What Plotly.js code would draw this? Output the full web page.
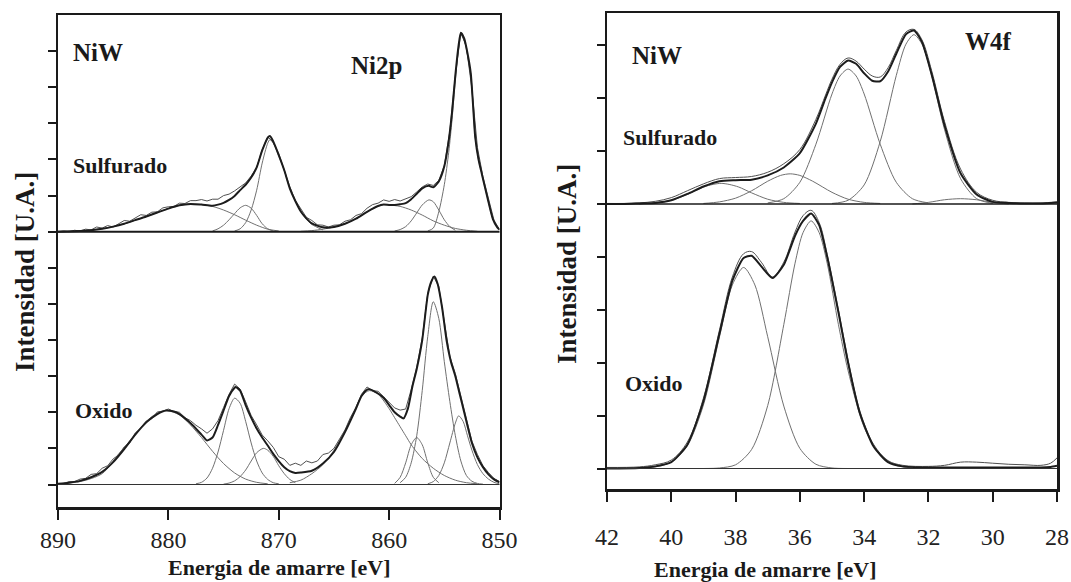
<!DOCTYPE html>
<html>
<head>
<meta charset="utf-8">
<script src="https://cdn.plot.ly/plotly-3.0.1.min.js"></script>
<style>html,body{margin:0;padding:0;background:#fff;}#chart{width:1071px;height:582px;}</style>
</head>
<body>
<div id="chart"></div>
<script>
// ---------------- DATA ----------------
// Axis ticks
const niTicks = [890, 880, 870, 860, 850];
const wTicks = [42, 40, 38, 36, 34, 32, 30, 28];

// Labels
const panelLabels = ["NiW", "Ni2p", "W4f"];
const sampleLabels = ["Sulfurado", "Oxido"];
const xTitle = "Energia de amarre [eV]";
const yTitle = "Intensidad [U.A.]";

// ===== Ni2p, Sulfurado (top) =====
const niSulfEnvE = [890,888,887,886,885,884,883,882,881,880,879,878,877,876,875.5,875,874.5,874,873.5,873,872.5,872,871.5,871,870.8,870.5,870,869.5,869,868.5,868,867.5,867,866,865,864,863,862,861,860.5,860,859.5,859,858.5,858,857.5,857,856.4,856,855.5,855,854.6,854.3,854,853.7,853.5,853.2,852.9,852.6,852.4,852.2,851.9,851.6,851.1,850.6,850.2,850];
const niSulfEnv = [0,0.02,0.04,0.08,0.14,0.22,0.32,0.42,0.53,0.64,0.73,0.77,0.75,0.72,0.75,0.8,0.88,0.99,1.15,1.3,1.5,1.78,2.25,2.6,2.65,2.5,2.12,1.7,1.2,0.85,0.56,0.37,0.23,0.12,0.13,0.22,0.36,0.55,0.71,0.75,0.74,0.74,0.76,0.79,0.9,1.05,1.2,1.27,1.23,1.39,1.81,2.52,3.31,4.33,5.17,5.51,5.35,4.94,4.38,3.52,2.62,2.0,1.6,0.95,0.35,0.12,0.06];
const niRawE = [890,889.5,889,888.5,888,887.5,887,886.5,886,885.5,885,884.5,884,883.5,883,882.5,882,881.5,881,880.5,880,879.5,879,878.5,878,877.5,877,876.5,876,875.5,875,874.5,874,873.5,873,872.5,872,871.5,871,870.5,870,869.5,869,868.5,868,867.5,867,866.5,866,865.5,865,864.5,864,863.5,863,862.5,862,861.5,861,860.5,860,859.5,859,858.5,858,857.5,857,856.5,856,855.5,855,854.5,854,853.5,853,852.5,852,851.5,851,850.5,850];
const niSulfRaw = [0,0.02,0,0.04,0.02,0.07,0.05,0.13,0.1,0.17,0.13,0.23,0.31,0.29,0.38,0.47,0.45,0.54,0.55,0.66,0.69,0.7,0.79,0.78,0.86,0.86,0.89,0.85,0.9,0.9,1.0,1.04,1.13,1.24,1.35,1.54,1.78,2.27,2.63,2.48,2.16,1.7,1.25,0.87,0.62,0.4,0.31,0.19,0.18,0.13,0.18,0.19,0.29,0.33,0.45,0.5,0.65,0.75,0.79,0.88,0.84,0.89,0.85,0.92,0.97,1.1,1.24,1.32,1.28,1.42,1.83,2.78,4.33,5.51,5.12,3.95,2.33,1.52,0.9,0.32,0.06];
const niSulfA_E = [888,886,884,882,880,879,878,877,876,875,874,873,872,871,870];
const niSulfA = [0.02,0.08,0.22,0.42,0.64,0.73,0.77,0.75,0.7,0.6,0.47,0.32,0.18,0.07,0.02];
const niSulfB_E = [876,875.5,875,874.5,874,873.5,873,872.5,872,871.5,871,870.5];
const niSulfB = [0.02,0.08,0.18,0.33,0.5,0.66,0.73,0.65,0.45,0.22,0.08,0.02];
const niSulfC_E = [874,873.5,873,872.5,872,871.5,871,870.8,870.5,870,869.5,869,868.5,868,867.5,867,866];
const niSulfC = [0.02,0.08,0.25,0.6,1.15,1.9,2.45,2.55,2.45,2.1,1.7,1.2,0.85,0.55,0.35,0.2,0.05];
const niSulfD_E = [868,867,866,865,864,863,862,861,860.5,860,859,858,857,856,855,854,853,852];
const niSulfD = [0.01,0.03,0.07,0.13,0.22,0.36,0.55,0.71,0.75,0.74,0.7,0.6,0.46,0.3,0.18,0.09,0.04,0.01];
const niSulfE_E = [859.5,859,858.5,858,857.5,857,856.4,856,855.5,855,854.5,854];
const niSulfE = [0.02,0.06,0.14,0.3,0.52,0.74,0.88,0.83,0.6,0.33,0.14,0.04];
const niSulfF_E = [856.5,856,855.5,855,854.6,854.3,854,853.7,853.5,853.2,852.9,852.6,852.4,852.2,851.9,851.6,851.1,850.6,850.2,850];
const niSulfF = [0.02,0.1,0.55,1.3,2.2,3.1,4.2,5.1,5.45,5.3,4.9,4.35,3.5,2.6,2.0,1.6,0.95,0.35,0.12,0.06];

// ===== Ni2p, Oxido (bottom) =====
const niOxEnvE = [890,889,888,887,886,885,884,883,882,881,880.2,879.5,879,878,877,876.5,876,875.5,875,874.5,874,873.9,873.5,873,872.5,872,871.5,871,870.5,870,869.5,869,868.5,868,867,866,865,864,863,862.5,861.9,861,860.5,860,859.5,859,858.7,858.3,857.9,857.5,857,856.5,856.2,855.9,855.6,855.2,854.8,854.4,854,853.6,853.2,853,852.5,852,851.5,851,850.5,850];
const niOxEnv = [0.02,0.05,0.1,0.2,0.35,0.62,0.98,1.38,1.72,1.95,2.05,2.02,1.95,1.7,1.38,1.22,1.3,1.65,2.05,2.45,2.68,2.7,2.6,2.2,1.85,1.55,1.3,1.08,0.85,0.65,0.48,0.37,0.32,0.33,0.38,0.58,0.9,1.45,2.1,2.45,2.64,2.52,2.4,2.2,2.0,1.88,1.83,2.1,2.7,3.2,4.0,5.25,5.6,5.76,5.55,4.9,4.0,3.4,3.0,2.5,2.0,1.75,1.15,0.75,0.48,0.28,0.14,0.06];
const niOxRaw = [0.02,0.03,0.08,0.08,0.15,0.17,0.28,0.3,0.45,0.52,0.71,0.82,1.04,1.15,1.43,1.56,1.76,1.82,2.01,2.03,2.09,2.02,2.0,1.85,1.77,1.64,1.54,1.42,1.54,1.77,2.13,2.5,2.78,2.64,2.29,1.91,1.65,1.37,1.21,1.03,0.77,0.7,0.53,0.59,0.53,0.65,0.6,0.65,0.83,0.87,1.0,1.27,1.51,1.86,2.13,2.5,2.7,2.6,2.58,2.43,2.27,2.12,2.06,2.09,2.63,3.25,4.06,5.29,5.77,5.48,4.51,3.55,3.07,2.44,1.83,1.2,0.83,0.52,0.33,0.17,0.08];
const niOxA_E = [890,888,886,884.5,883,882,881,880.2,879,878,877,876,875,874,873,872,871];
const niOxA = [0.02,0.08,0.3,0.85,1.38,1.75,1.98,2.05,1.93,1.65,1.3,0.92,0.58,0.32,0.15,0.06,0.02];
const niOxB_E = [877.5,877,876.5,876,875.5,875,874.5,874,873.5,873,872.5,872,871.5,871,870.5,870];
const niOxB = [0.02,0.06,0.18,0.45,0.9,1.5,2.1,2.39,2.25,1.75,1.15,0.65,0.32,0.14,0.05,0.02];
const niOxC_E = [875,874.5,874,873.5,873,872.5,872,871.4,871,870.5,870,869.5,869,868.5];
const niOxC = [0.01,0.04,0.1,0.22,0.4,0.65,0.88,1.0,0.95,0.78,0.52,0.3,0.14,0.05];
const niOxD_E = [869,868,867,866,865,864,863,862.5,861.8,861,860,859.5,859,858.5,858,857.5,857,856,855,854,853,852];
const niOxD = [0.05,0.12,0.3,0.55,0.95,1.5,2.15,2.45,2.6,2.5,2.1,1.85,1.6,1.35,1.1,0.9,0.72,0.45,0.25,0.12,0.05,0.02];
const niOxE_E = [859.5,859,858.5,858,857.5,857,856.5,856,855.5];
const niOxE = [0.03,0.2,0.6,1.1,1.3,1.1,0.6,0.2,0.05];
const niOxF_E = [859,858.5,858,857.5,857,856.5,856,855.5,855,854.5,854,853.5,853,852.5,852,851.5];
const niOxF = [0.05,0.2,0.6,1.35,2.6,4.1,5.06,4.6,3.4,2.3,1.35,0.65,0.25,0.09,0.03,0.01];
const niOxG_E = [856.5,856,855.5,855,854.5,854,853.7,853.3,852.9,852.5,852,851.5,851,850.5,850];
const niOxG = [0.02,0.08,0.25,0.6,1.15,1.7,1.9,1.75,1.35,0.95,0.55,0.3,0.15,0.06,0.02];

// ===== W4f, Sulfurado (top) =====
const wSulfEnvE = [42,41.5,41,40.5,40,39.5,39,38.5,38,37.5,37,36.5,36,35.5,35.2,35,34.75,34.5,34.25,34,33.75,33.5,33.25,33,32.7,32.45,32.2,31.9,31.5,31,30.5,30,29.5,29,28.5,28];
const wSulfEnv = [0,0,0.01,0.02,0.07,0.19,0.33,0.43,0.45,0.46,0.54,0.69,0.96,1.52,2.0,2.3,2.59,2.71,2.65,2.47,2.33,2.32,2.51,2.84,3.21,3.28,3.06,2.45,1.49,0.58,0.18,0.04,0.02,0.01,0.01,0.03];
const wSulfRaw = [0.01,0.01,0.02,0.05,0.12,0.25,0.38,0.48,0.5,0.52,0.6,0.76,1.03,1.6,2.06,2.36,2.64,2.76,2.7,2.55,2.42,2.4,2.58,2.9,3.25,3.3,3.1,2.52,1.56,0.66,0.22,0.07,0.03,0.02,0.02,0.04];
const wSulfC1_E = [35,34.5,34,33.5,33,32.7,32.45,32.2,31.9,31.5,31,30.5,30];
const wSulfC1 = [0.01,0.07,0.36,1.18,2.43,3.02,3.2,3.02,2.43,1.41,0.48,0.1,0.01];
const wSulfC2_E = [37,36.5,36,35.5,35,34.75,34.5,34.25,34,33.5,33,32.5,32];
const wSulfC2 = [0.02,0.1,0.41,1.13,2.08,2.42,2.55,2.42,2.08,1.13,0.41,0.1,0.02];
const wSulfC3_E = [39,38.5,38,37.5,37,36.6,36.3,36,35.6,35,34.5,34,33.5];
const wSulfC3 = [0.01,0.04,0.11,0.25,0.43,0.54,0.57,0.54,0.43,0.22,0.09,0.03,0.01];
const wSulfC4_E = [41,40.5,40,39.5,39,38.7,38.45,38.2,37.9,37.5,37,36.5,36];
const wSulfC4 = [0.0,0.02,0.07,0.18,0.32,0.37,0.39,0.37,0.32,0.21,0.09,0.03,0.01];
const wSulfC5_E = [32.5,32,31.5,31,30.5,30,29.5];
const wSulfC5 = [0.0,0.03,0.08,0.1,0.08,0.03,0.0];

// ===== W4f, Oxido (bottom) =====
const wOxEnvE = [42,41,40.5,40,39.5,39,38.5,38.1,37.75,37.5,37.2,36.85,36.5,36.15,35.9,35.65,35.4,35.15,34.8,34.5,34.13,33.7,33.26,32.8,32,31.5,31,30.5,30,29.5,29,28.5,28.2,28];
const wOxEnv = [0,0.01,0.04,0.12,0.45,1.27,2.55,3.55,3.98,4.02,3.82,3.6,3.85,4.4,4.68,4.82,4.6,4.0,2.95,2.0,1.04,0.41,0.12,0.04,0.02,0.02,0.02,0.02,0.02,0.02,0.02,0.02,0.03,0.05];
const wOxRaw = [0.02,0.03,0.07,0.16,0.5,1.33,2.62,3.62,4.06,4.1,3.9,3.62,3.9,4.47,4.78,4.88,4.65,4.05,3.0,2.05,1.08,0.45,0.15,0.06,0.04,0.06,0.12,0.12,0.1,0.08,0.07,0.06,0.1,0.2];
const wOxC1_E = [39,38.5,38,37.5,37,36.5,36.15,35.9,35.65,35.4,35.15,34.8,34.5,34,33.5,33,32.5];
const wOxC1 = [0,0.01,0.07,0.36,1.19,2.72,3.88,4.46,4.68,4.46,3.88,2.72,1.85,0.78,0.25,0.06,0.01];
const wOxC2_E = [41,40.5,40,39.5,39,38.5,38.1,37.75,37.4,37,36.5,36,35.5,35,34.5];
const wOxC2 = [0.01,0.03,0.12,0.43,1.2,2.49,3.47,3.8,3.47,2.49,1.18,0.38,0.08,0.01,0];

// Vertical stacking offset of the upper (Sulfurado) spectra, in axis units
const niSulfOffset = 7;
const wSulfOffset = 5;

// ---------------- BUILD ----------------
const W = 1071, H = 582;
const FONT = "'Liberation Serif', 'Times New Roman', serif";
const INK = "#1a1a1a";
const px = x => x / W;
const py = y => 1 - y / H;

const traces = [];
function shift(arr, off) { return arr.map(v => v + off); }
function comp(xs, ys, off, xa, ya) {
  traces.push({x: xs, y: shift(ys, off), xaxis: xa, yaxis: ya, mode: "lines",
    line: {color: "#707070", width: 1, shape: "spline", smoothing: 0.8}, hoverinfo: "skip"});
}
function raw(xs, ys, off, xa, ya, smooth) {
  traces.push({x: xs, y: shift(ys, off), xaxis: xa, yaxis: ya, mode: "lines",
    line: {color: "#505050", width: 1, shape: smooth ? "spline" : "linear"}, hoverinfo: "skip"});
}
function env(xs, ys, off, xa, ya) {
  traces.push({x: xs, y: shift(ys, off), xaxis: xa, yaxis: ya, mode: "lines",
    line: {color: "#1c1c1c", width: 2, shape: "spline", smoothing: 0.6}, hoverinfo: "skip"});
}

// Ni2p top
[[niSulfA_E, niSulfA], [niSulfB_E, niSulfB], [niSulfC_E, niSulfC], [niSulfD_E, niSulfD], [niSulfE_E, niSulfE], [niSulfF_E, niSulfF]]
  .forEach(([e, v]) => comp(e, v, niSulfOffset, "x", "y"));
raw(niRawE, niSulfRaw, niSulfOffset, "x", "y", false);
env(niSulfEnvE, niSulfEnv, niSulfOffset, "x", "y");
// Ni2p bottom
[[niOxA_E, niOxA], [niOxB_E, niOxB], [niOxC_E, niOxC], [niOxD_E, niOxD], [niOxE_E, niOxE], [niOxF_E, niOxF], [niOxG_E, niOxG]]
  .forEach(([e, v]) => comp(e, v, 0, "x", "y"));
raw(niRawE, niOxRaw, 0, "x", "y", false);
env(niOxEnvE, niOxEnv, 0, "x", "y");
// W4f top
[[wSulfC1_E, wSulfC1], [wSulfC2_E, wSulfC2], [wSulfC3_E, wSulfC3], [wSulfC4_E, wSulfC4], [wSulfC5_E, wSulfC5]]
  .forEach(([e, v]) => comp(e, v, wSulfOffset, "x2", "y2"));
raw(wSulfEnvE, wSulfRaw, wSulfOffset, "x2", "y2", true);
env(wSulfEnvE, wSulfEnv, wSulfOffset, "x2", "y2");
// W4f bottom
[[wOxC1_E, wOxC1], [wOxC2_E, wOxC2]].forEach(([e, v]) => comp(e, v, 0, "x2", "y2"));
raw(wOxEnvE, wOxRaw, 0, "x2", "y2", true);
env(wOxEnvE, wOxEnv, 0, "x2", "y2");

const frame = {showline: true, mirror: true, linewidth: 2.5, linecolor: INK, showgrid: false, zeroline: false};
const xCommon = Object.assign({}, frame, {ticks: "outside", ticklen: 10, tickwidth: 2, tickcolor: INK,
  tickfont: {family: FONT, size: 24, color: "#222"}});
const yCommon = Object.assign({}, frame, {ticks: "outside", ticklen: 8, tickwidth: 2, tickcolor: INK, showticklabels: false});

const layout = {
  width: W, height: H, margin: {l: 0, r: 0, t: 0, b: 0},
  paper_bgcolor: "#fff", plot_bgcolor: "#fff", showlegend: false,
  xaxis: Object.assign({}, xCommon, {domain: [px(58), px(499.5)], range: [890, 850], anchor: "y",
    tickvals: niTicks, ticktext: niTicks.map(String), ticklabelstandoff: 0}),
  yaxis: Object.assign({}, yCommon, {domain: [py(507), py(15)], range: [-0.623, 13.0], anchor: "x",
    tickvals: [0,1,2,3,4,5,6,7,8,9,10,11,12]}),
  xaxis2: Object.assign({}, xCommon, {domain: [px(607), px(1057)], range: [42, 28], anchor: "y2",
    tickvals: wTicks, ticktext: wTicks.map(String), ticklabelstandoff: 15}),
  yaxis2: Object.assign({}, yCommon, {domain: [py(489), py(13)], range: [-0.3875, 8.61], anchor: "x2",
    tickvals: [0,1,2,3,4,5,6,7,8]}),
  shapes: [
    {type: "line", xref: "x domain", yref: "y", x0: 0, x1: 1, y0: niSulfOffset, y1: niSulfOffset, line: {color: INK, width: 2}},
    {type: "line", xref: "x domain", yref: "y", x0: 0, x1: 1, y0: 0, y1: 0, line: {color: "#333", width: 1.2}},
    {type: "line", xref: "x2 domain", yref: "y2", x0: 0, x1: 1, y0: wSulfOffset, y1: wSulfOffset, line: {color: INK, width: 1.6}},
    {type: "line", xref: "x2 domain", yref: "y2", x0: 0, x1: 1, y0: 0, y1: 0, line: {color: "#333", width: 1.2}}
  ],
  annotations: []
};

function label(text, x, y, size, xanchor, angle) {
  layout.annotations.push({text: "<b>" + text + "</b>", xref: "paper", yref: "paper", x: px(x), y: py(y),
    xanchor: xanchor || "left", yanchor: "middle", showarrow: false, textangle: angle || 0,
    font: {family: FONT, size: size, color: INK}});
}
label(panelLabels[0], 71, 52, 25);
label(panelLabels[1], 376, 65, 25, "center");
label(sampleLabels[0], 71, 165, 22);
label(sampleLabels[1], 73, 410, 22);
label(panelLabels[0], 630, 55, 25);
label(panelLabels[2], 963, 42, 25);
label(sampleLabels[0], 621, 137, 22);
label(sampleLabels[1], 623, 383, 22);
label(xTitle, 279, 567, 22, "center");
label(xTitle, 765, 569, 22, "center");
label(yTitle, 25, 272, 27, "center", -90);
label(yTitle, 567, 264, 27, "center", -90);

Plotly.newPlot("chart", traces, layout, {staticPlot: true, displayModeBar: false});
</script>
</body>
</html>
